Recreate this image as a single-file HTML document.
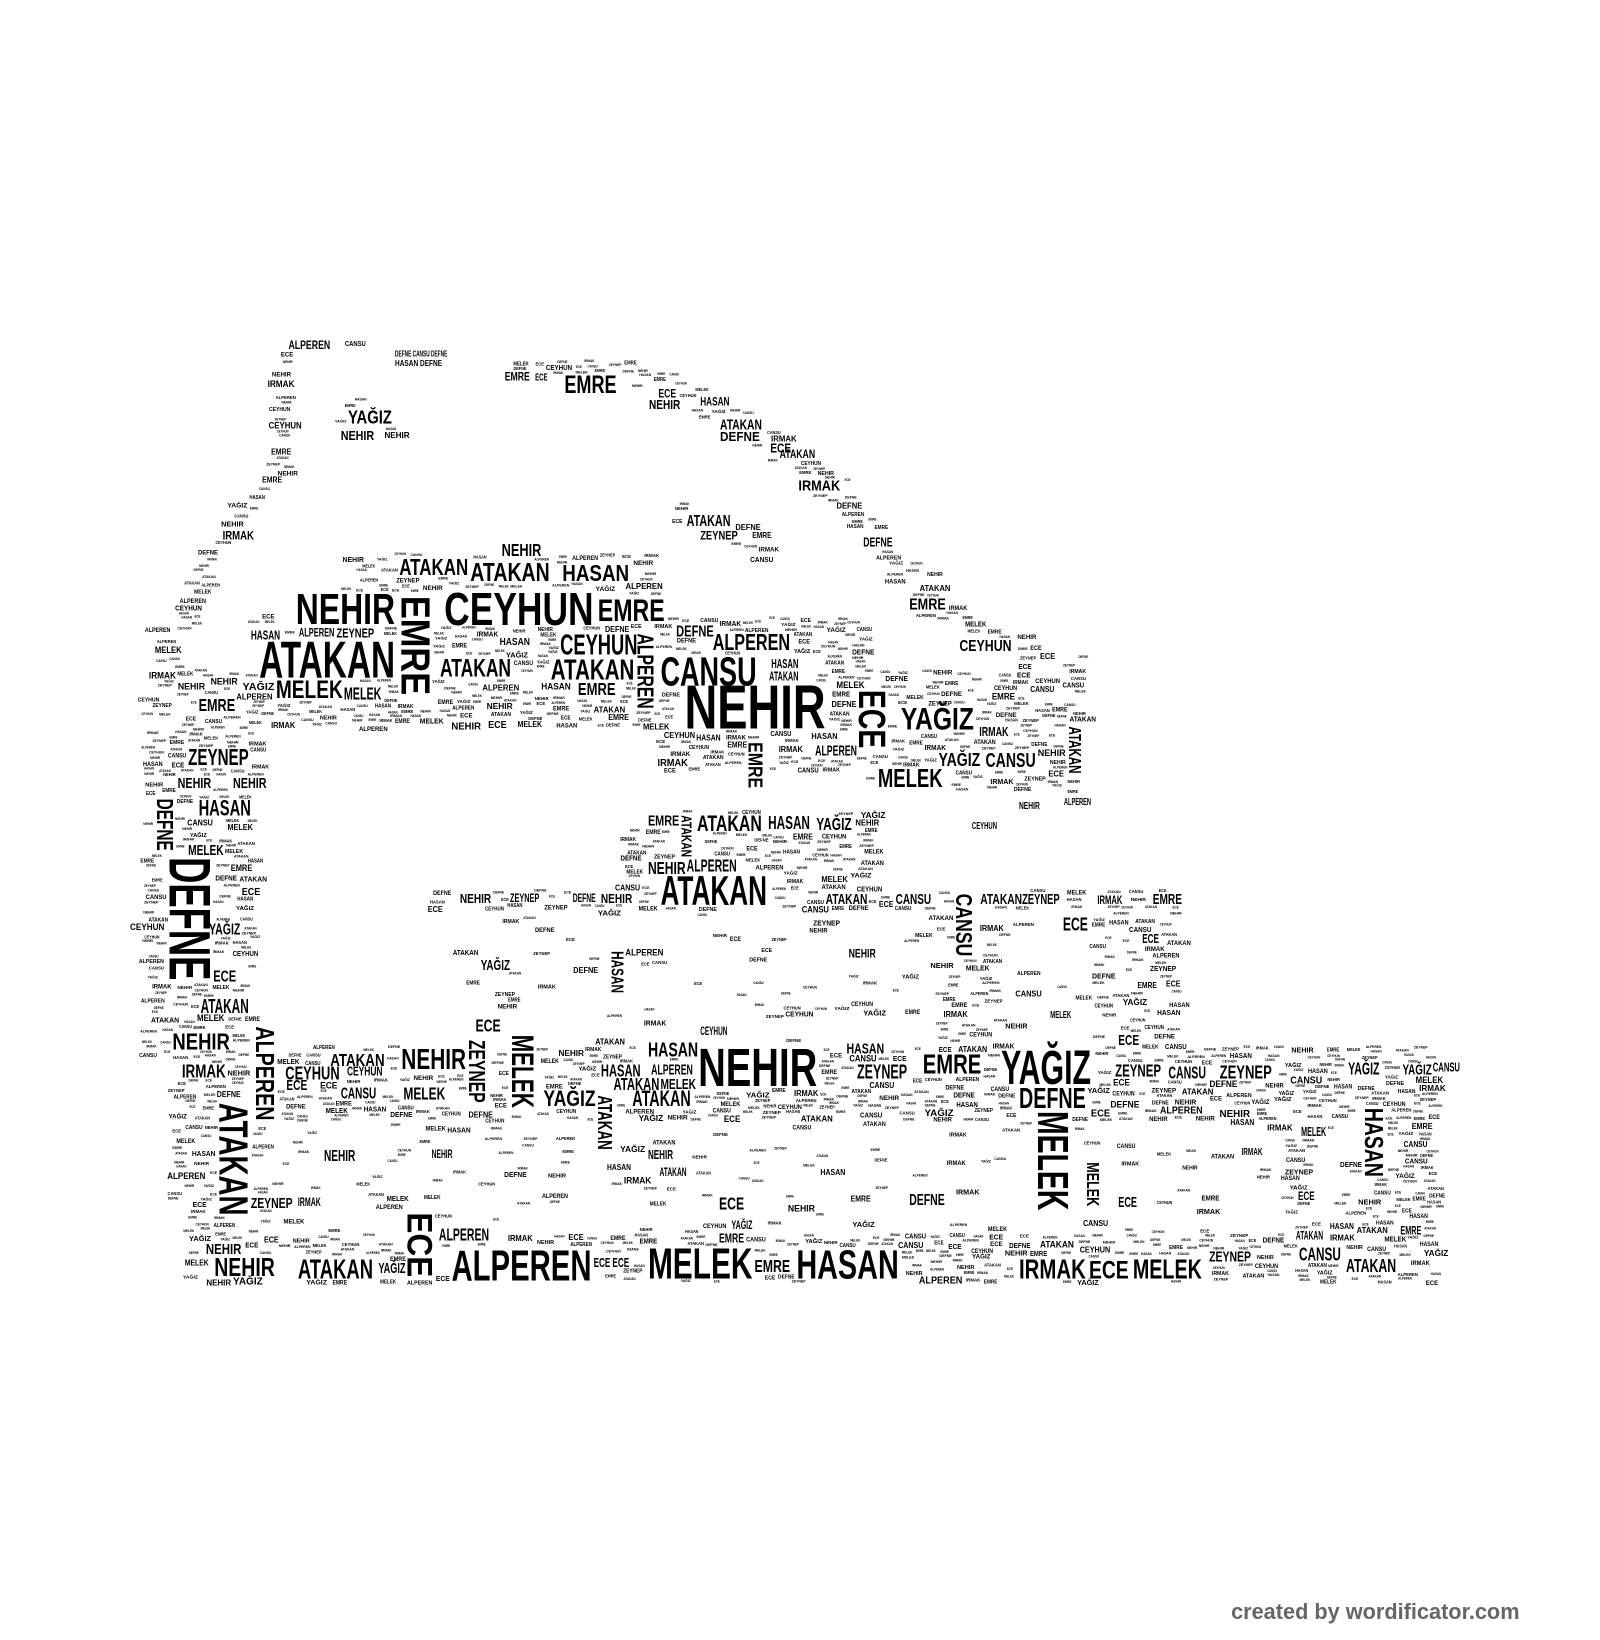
<!DOCTYPE html>
<html><head><meta charset="utf-8">
<style>
html,body{margin:0;padding:0;background:#fff;}
svg{display:block;}
text{font-family:"Liberation Sans",sans-serif;font-weight:bold;fill:#000;}
</style></head>
<body>
<svg id="s" width="1600" height="1640" viewBox="0 0 1531 1569" xmlns="http://www.w3.org/2000/svg">
<g id="fill"></g>
<g id="big"></g>
<text x="1178" y="1549" font-size="21" textLength="276" lengthAdjust="spacingAndGlyphs" style="fill:#666">created by wordificator.com</text>
</svg>
<script>
var NS="http://www.w3.org/2000/svg";
var W=["NEHIR","ATAKAN","CEYHUN","EMRE","CANSU","DEFNE","HASAN","MELEK","YAĞIZ","ZEYNEP","IRMAK","ECE","ALPEREN"];
var seed=12345;function rnd(){seed=(seed*16807)%2147483647;return seed/2147483647;}
var boxes=[];
function fits(x,y,w,h){
  for(var i=0;i<boxes.length;i++){var b=boxes[i];
    if(x<b[0]+b[2]+1&&x+w+1>b[0]&&y<b[1]+b[3]+1&&y+h+1>b[1])return false;}
  return true;
}
function T(g,txt,x,y,w,h,rot){
  var t=document.createElementNS(NS,"text");
  t.setAttribute("lengthAdjust","spacingAndGlyphs");
  if(rot){
    t.setAttribute("font-size",(w/0.72).toFixed(2));
    t.setAttribute("textLength",h);
    t.setAttribute("x",0);t.setAttribute("y",0);
    t.setAttribute("transform","translate("+x+","+y+") rotate(90)");
  }else{
    t.setAttribute("font-size",(h/0.72).toFixed(2));
    t.setAttribute("textLength",w);
    t.setAttribute("x",x);t.setAttribute("y",y+h);
  }
  t.textContent=txt;g.appendChild(t);
  boxes.push([x,y,w,h]);
}
var g=document.getElementById("big");
var B=[
["ALPEREN",276,326,40,8],["CANSU",330,326,20,5],["DEFNE CANSU DEFNE",378,335,50,6],["HASAN DEFNE",378,344,45,6],
["YAĞIZ",333,392,42,13],["NEHIR",326,412,32,9],["EMRE",483,356,24,8],["ECE",512,357,12,7],["EMRE",540,359,50,17],
["ECE",630,372,17,8],["HASAN",670,380,28,8],["NEHIR",621,382,30,9],["ATAKAN",689,401,40,10],["DEFNE",689,413,38,9],
["ECE",737,424,20,9],["ATAKAN",746,430,34,8],["IRMAK",764,459,40,10],["ATAKAN",657,492,42,11],["ZEYNEP",670,508,36,8],
["IRMAK",213,508,30,8],["NEHIR",480,520,38,12],["DEFNE",826,514,28,9],["EMRE",870,572,35,11],["CEYHUN",918,612,50,11],["HASAN",738,630,26,9],["ATAKAN",736,642,28,9],
["ATAKAN",382,534,66,16],["ATAKAN",450,538,76,18],["HASAN",538,540,64,16],["NEHIR",283,567,95,30],["EMRE",384,570,28,95,1],
["CEYHUN",425,566,143,32],["EMRE",572,572,64,22],["ATAKAN",248,612,130,36],["MELEK",264,651,64,17],["MELEK",329,657,36,12],
["HASAN",240,603,28,9],["ALPEREN",286,601,34,8],["ZEYNEP",322,601,36,9],
["ATAKAN",421,630,68,17],["CEYHUN",536,606,74,20],["ALPEREN",610,606,16,72,1],["ATAKAN",527,630,80,20],["CANSU",632,628,92,28],
["NEHIR",655,654,135,43],["EMRE",553,653,36,12],["ALPEREN",682,606,74,16],["DEFNE",647,598,36,11],["ECE",822,660,26,56,1],
["YAĞIZ",862,676,70,22],["IRMAK",937,695,28,9],["MELEK",840,735,62,18],["YAĞIZ",898,720,40,13],["CANSU",943,720,48,14],
["EMRE",716,710,14,44,1],["ATAKAN",1023,695,12,45,1],["ALPEREN",780,713,40,10],["EMRE",190,668,35,12],["ZEYNEP",180,716,58,16],
["NEHIR",170,744,32,10],["NEHIR",223,744,32,10],["HASAN",190,765,50,15],["DEFNE",150,764,16,50,1],["MELEK",180,808,34,10],
["DEFNE",162,820,40,118,1],["YAĞIZ",200,883,30,11],["ECE",204,928,22,11],["ATAKAN",192,955,46,14],["NEHIR",165,988,55,16],
["ALPEREN",245,982,18,90,1],["ATAKAN",210,1055,28,108,1],["IRMAK",174,1018,42,13],["ZEYNEP",240,1146,40,10],["IRMAK",285,1146,22,8],
["NEHIR",197,1190,34,10],["NEHIR",205,1203,58,18],["ATAKAN",285,1204,72,19],["YAĞIZ",362,1208,26,10],["ECE",390,1160,24,62,1],
["ALPEREN",420,1175,48,12],["ALPEREN",432,1195,134,30],["ECE",568,1203,16,9],["ECE",586,1203,16,9],["MELEK",620,1193,100,30],
["EMRE",722,1205,34,12],["HASAN",762,1195,98,28],["IRMAK",975,1204,64,19],["ECE",1042,1206,38,17],["MELEK",1084,1204,66,19],
["ZEYNEP",1157,1197,40,10],["CANSU",1243,1193,40,13],["ATAKAN",1288,1204,48,13],["ATAKAN",1240,1178,26,8],["EMRE",1340,1173,20,8],
["NEHIR",384,1003,62,20],["ATAKAN",316,1008,52,12],["CEYHUN",273,1020,52,13],["CEYHUN",332,1020,34,9],["ECE",274,1033,20,10],
["CANSU",326,1040,34,11],["MELEK",386,1040,40,12],["ZEYNEP",449,995,16,60,1],["ECE",455,975,24,12],["MELEK",490,990,22,70,1],
["YAĞIZ",520,1043,50,15],["HASAN",575,1018,38,12],["ATAKAN",587,1031,44,12],["ATAKAN",605,1043,56,15],["HASAN",620,997,48,14],
["ALPEREN",623,1018,40,10],["MELEK",632,1032,34,10],["NEHIR",668,1002,114,37],["HASAN",810,998,36,10],["ZEYNEP",820,1018,48,14],
["EMRE",883,1008,56,19],["DEFNE",975,1040,64,20],["YAĞIZ",958,1004,86,33],["MELEK",993,1063,30,95,1],["MELEK",1040,1112,12,42,1],
["ZEYNEP",1067,1018,44,12],["CANSU",1118,1020,36,12],["ZEYNEP",1167,1019,50,13],["HASAN",1306,1060,18,66,1],["YAĞIZ",1290,1016,30,12],
["YAĞIZ",1342,1018,28,10],["CANSU",1371,1016,26,9],["IRMAK",1188,1098,20,7],["ECE",1242,1140,16,8],
["ATAKAN",632,837,102,29],["ATAKAN",667,780,62,15],["HASAN",735,780,40,13],["YAĞIZ",781,782,34,12],["EMRE",620,780,30,10],
["ALPEREN",657,822,48,12],["NEHIR",620,824,36,12],["ATAKAN",652,780,10,40,1],
["NEHIR",440,855,30,9],["ZEYNEP",488,855,28,8],["DEFNE",548,855,22,8],["NEHIR",575,855,30,9],["ATAKAN",790,855,40,10],
["CANSU",857,855,34,10],["ATAKAN",938,855,40,10],["ZEYNEP",978,855,36,10],["IRMAK",1050,857,24,8],["EMRE",1103,855,28,10],
["CANSU",915,855,16,60,1],["ECE",1017,877,24,13],["ECE",1093,893,16,9],["NEHIR",812,908,26,8],["HASAN",585,910,12,40,1],["YAĞIZ",460,918,28,10],
["ATAKAN",572,1048,14,52,1],["ECE",688,1145,24,12],["DEFNE",870,1142,34,11],["NEHIR",310,1100,30,11],["NEHIR",413,1100,20,8],
["NEHIR",620,1100,24,9],["ATAKAN",631,1117,26,8],["EMRE",688,1180,24,9],["YAĞIZ",700,1168,20,8],["ECE",1070,1145,18,10],["MELEK",1245,1078,24,9],
["ECE",1070,990,20,10],["MELEK",1005,967,20,7],["CEYHUN",670,982,26,8],["ALPEREN",1018,763,26,7],["CEYHUN",930,786,24,7],["NEHIR",975,767,20,7]
];
B.forEach(function(b){T(g,b[0],b[1],b[2],b[3],b[4],b[5]);});
var fill=document.getElementById("fill");
function place(px,py,maxh){
  var word=W[Math.floor(rnd()*W.length)];
  var hh=2.2+Math.pow(rnd(),2)*(maxh||5);
  var ww=word.length*hh*0.85;
  if(fits(px-ww/2,py,ww,hh))T(fill,word,px-ww/2,py,ww,hh,0);
}
function rect(x,y,w,h,d,maxh){
  var n=Math.round(w*h*d);
  for(var i=0;i<n;i++)place(x+rnd()*w,y+rnd()*h,maxh);
}
function seg(x1,y1,x2,y2,band,d,maxh){
  var L=Math.hypot(x2-x1,y2-y1),n=Math.round(L*band*d);
  for(var i=0;i<n;i++){var f=rnd();
    place(x1+(x2-x1)*f+(rnd()-0.5)*band,y1+(y2-y1)*f+(rnd()-0.5)*band,maxh||4);}
}
// handle
seg(272,330,272,440,10,0.03);
seg(272,440,240,480,14,0.03);
seg(240,480,200,530,18,0.03);
seg(200,530,175,600,20,0.03);
seg(470,352,600,352,16,0.03);
seg(600,352,700,395,26,0.03);
seg(700,395,790,460,26,0.03);
seg(790,460,850,530,26,0.03);
seg(850,530,900,580,30,0.03);
seg(900,580,1000,625,26,0.025);
seg(1030,620,1030,760,14,0.03);
seg(650,490,740,525,22,0.03);
rect(326,380,60,40,0.015);
// hump
rect(240,585,150,110,0.03,5);
rect(330,528,300,165,0.03,5);
rect(630,590,200,145,0.03,5);
rect(830,640,190,115,0.03,5);
rect(180,640,70,100,0.03,5);
rect(140,600,40,140,0.01,4);
// left column
rect(140,700,105,310,0.03,5);
// middle
rect(600,775,240,75,0.02,4);
rect(410,850,720,18,0.03,4);
rect(410,870,720,130,0.001,4);
rect(1050,870,80,140,0.01,4);
rect(900,870,60,140,0.01,4);
// bottom band
rect(165,1000,1210,70,0.03,5);
rect(180,1180,1195,45,0.03,5);
rect(165,1070,1210,110,0.0015,4);
rect(165,1070,90,110,0.02,4);
rect(1230,1070,30,110,0.015,4);
rect(1290,1060,80,130,0.015,4);
rect(1350,1030,30,150,0.015,4);
</script>
</body></html>
